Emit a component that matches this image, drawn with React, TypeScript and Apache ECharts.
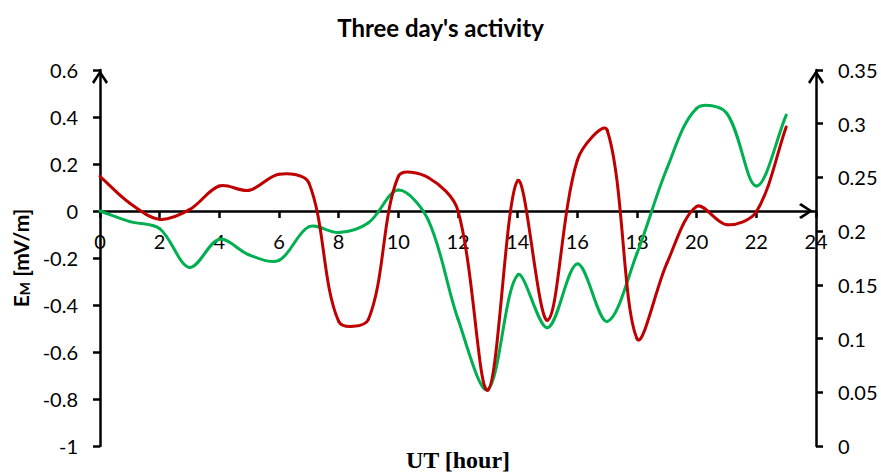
import React, { useEffect, useRef } from 'react';
import * as echarts from 'echarts';

const hours = [0, 1, 2, 3, 4, 5, 6, 7, 8, 9, 10, 11, 12, 13, 14, 15, 16, 17, 18, 19, 20, 21, 22, 23];
const greenValues = [0, -0.045, -0.075, -0.24, -0.12, -0.187, -0.21, -0.067, -0.092, -0.05, 0.089, -0.038, -0.46, -0.76, -0.272, -0.497, -0.225, -0.47, -0.18, 0.18, 0.437, 0.417, 0.106, 0.408];
const redValues = [0.251, 0.226, 0.211, 0.22, 0.242, 0.238, 0.253, 0.245, 0.116, 0.118, 0.251, 0.25, 0.219, 0.052, 0.247, 0.117, 0.266, 0.294, 0.1, 0.17, 0.223, 0.206, 0.218, 0.297];

const xRange = { min: 0, max: 24, interval: 2 };
const leftRange = { min: -1, max: 0.6, interval: 0.2 };
const rightRange = { min: 0, max: 0.35, interval: 0.05 };

const titleText = "Three day's activity";
const xName = 'UT [hour]';

const FONT = 'Lato, "Open Sans", sans-serif';
const chevron = 'path://M8 0 L16 12 L14 14 L8 4.5 L2 14 L0 12 Z';

// Excel-like smoothed line: one cubic Bezier per segment, control points from the
// neighbouring points (weighted by segment length), positioned via api.coord.
function smoothRenderer(values: number[], color: string) {
  return (params: any, api: any) => {
    const i = params.dataIndex;
    const n = hours.length;
    const pt = (j: number) => {
      const k = Math.max(0, Math.min(n - 1, j));
      return api.coord([hours[k], values[k]]);
    };
    const dist = (a: number[], b: number[]) => Math.hypot(b[0] - a[0], b[1] - a[1]);
    const p0 = pt(i - 1);
    const p1 = pt(i);
    const p2 = pt(i + 1);
    const p3 = pt(i + 2);
    const s = 1 / 3;
    const d01 = dist(p0, p1);
    const d12 = dist(p1, p2);
    const d23 = dist(p2, p3);
    const r1 = d01 + d12 > 0 ? d12 / (d01 + d12) : 0;
    const r2 = d12 + d23 > 0 ? d12 / (d12 + d23) : 0;
    return {
      type: 'bezierCurve',
      shape: {
        x1: p1[0],
        y1: p1[1],
        x2: p2[0],
        y2: p2[1],
        cpx1: p1[0] + (p2[0] - p0[0]) * s * r1,
        cpy1: p1[1] + (p2[1] - p0[1]) * s * r1,
        cpx2: p2[0] - (p3[0] - p1[0]) * s * r2,
        cpy2: p2[1] - (p3[1] - p1[1]) * s * r2,
      },
      style: { stroke: color, lineWidth: 3, fill: 'none', lineCap: 'round' },
    };
  };
}

export default function App() {
  const ref = useRef<HTMLDivElement>(null);
  useEffect(() => {
    if (!ref.current) return;
    const chart = echarts.init(ref.current, null, { renderer: 'svg' });
    const axisLine = {
      show: true,
      lineStyle: { color: '#000', width: 2.5 },
      symbol: ['none', chevron],
      symbolSize: [16, 14],
      symbolOffset: [0, -7],
    };
    const tick = { show: true, inside: false, length: 7, lineStyle: { color: '#000', width: 2.5 } };
    const label = { color: '#000', fontSize: 20, fontFamily: FONT };
    chart.setOption({
      animation: false,
      backgroundColor: '#fff',
      title: {
        text: titleText,
        left: 'center',
        top: 10,
        textStyle: { fontSize: 24, fontWeight: 'bold', fontFamily: FONT, color: '#000' },
      },
      grid: { left: 100, right: 65, top: 70, bottom: 30, containLabel: false, outerBoundsMode: 'none' },
      xAxis: {
        type: 'value',
        ...xRange,
        position: 'bottom',
        offset: -235,
        name: xName,
        nameLocation: 'middle',
        nameGap: 237,
        nameTextStyle: { fontFamily: '"Liberation Serif", serif', fontWeight: 'bold', fontSize: 24, color: '#000' },
        axisLine: { ...axisLine, onZero: false, symbolOffset: [0, -10] },
        axisTick: tick,
        axisLabel: { ...label, margin: 20 },
        splitLine: { show: false },
      },
      yAxis: [
        {
          type: 'value',
          position: 'left',
          ...leftRange,
          name: '{e|E}{m|M}{e| [mV/m]}',
          nameLocation: 'middle',
          nameRotate: 90,
          nameGap: 64,
          nameTextStyle: {
            rich: {
              e: { fontSize: 21, fontWeight: 'bold', fontFamily: FONT, color: '#000', verticalAlign: 'top', lineHeight: 22 },
              m: { fontSize: 14, fontWeight: 'bold', fontFamily: FONT, color: '#000', verticalAlign: 'bottom', lineHeight: 22 },
            },
          },
          axisLine,
          axisTick: tick,
          axisLabel: { ...label, margin: 22 },
          splitLine: { show: false },
        },
        {
          type: 'value',
          position: 'right',
          ...rightRange,
          axisLine,
          axisTick: tick,
          axisLabel: { ...label, margin: 22 },
          splitLine: { show: false },
        },
      ],
      series: [
        {
          type: 'custom',
          yAxisIndex: 0,
          data: hours.slice(0, -1).map((h, i) => [h, greenValues[i]]),
          encode: { x: 0, y: 1 },
          renderItem: smoothRenderer(greenValues, '#00B050'),
        },
        {
          type: 'custom',
          yAxisIndex: 1,
          data: hours.slice(0, -1).map((h, i) => [h, redValues[i]]),
          encode: { x: 0, y: 1 },
          renderItem: smoothRenderer(redValues, '#C00000'),
        },
      ],
    });
    return () => chart.dispose();
  }, []);
  return <div ref={ref} style={{ position: 'absolute', left: 0, top: 0, width: 881, height: 476 }} />;
}
